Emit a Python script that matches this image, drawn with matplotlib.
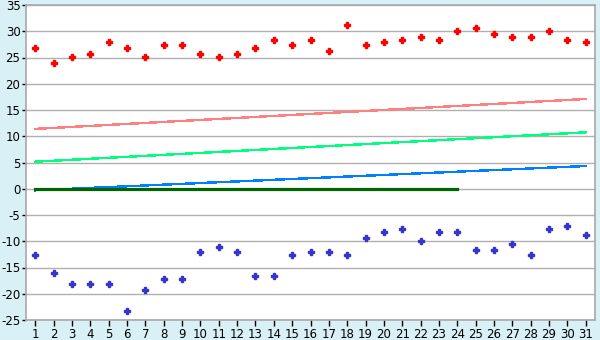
import matplotlib
matplotlib.use("Agg")
import matplotlib.pyplot as plt
import numpy as np

plt.rcParams["axes.unicode_minus"] = False

days = list(range(1, 32))
high_pts = [26.74, 23.89, 25.03, 25.6, 27.89, 26.74, 25.03, 27.32, 27.32, 25.6,
            25.03, 25.6, 26.74, 28.27, 27.32, 28.27, 26.17, 31.13, 27.32, 27.89,
            28.27, 28.84, 28.27, 29.98, 30.56, 29.41, 28.84, 28.84, 29.98, 28.27, 27.89]
low_pts = [-12.68, -16.11, -18.21, -18.21, -18.21, -23.35, -19.35, -17.25, -17.25, -12.11,
           -11.16, -12.11, -16.68, -16.68, -12.68, -12.11, -12.11, -12.68, -9.44, -8.30,
           -7.73, -10.02, -8.30, -8.30, -11.73, -11.73, -10.59, -12.68, -7.73, -7.16, -8.87]
# trend lines (start/end values)
red_trend = [11.4, 17.1]
green_trend = [5.15, 10.75]
blue_trend = [-0.3, 4.33]
zero_days = [1, 24]
zero_vals = [0, 0]

fig = plt.figure(figsize=(6, 3.4), dpi=100)
fig.patch.set_facecolor("#d9f0f7")
ax = fig.add_axes([26/600, 20/340, 569/600, 315/340])
ax.set_facecolor("white")

ax.set_xlim(0.5, 31.5)
ax.set_ylim(-25, 35)
ax.set_yticks(range(-25, 36, 5))
ax.set_xticks(days)
ax.yaxis.grid(True, color="#b0b0b0", linewidth=1)
ax.set_axisbelow(True)

ax.plot([1, 31], red_trend, color="#ff8080", linewidth=1, antialiased=False)
ax.plot([1, 31], green_trend, color="#00ff80", linewidth=1, antialiased=False)
ax.plot([1, 31], blue_trend, color="#0080ff", linewidth=1, antialiased=False)
ax.plot(zero_days, zero_vals, color="#006400", linewidth=2.3)

ax.plot(days, high_pts, linestyle="none", marker="P", markersize=4.5, color="#ff0000")
ax.plot(days, low_pts, linestyle="none", marker="P", markersize=4.5, color="#3535cc")

for s in ax.spines.values():
    s.set_color("#a8a8a8")
    s.set_linewidth(1.2)
ax.tick_params(axis="both", colors="black", labelsize=8.5, length=4, width=1,
               pad=1.5)
ax.tick_params(axis="y", length=3, pad=1)

fig.savefig("out.png", dpi=100, facecolor=fig.get_facecolor())
